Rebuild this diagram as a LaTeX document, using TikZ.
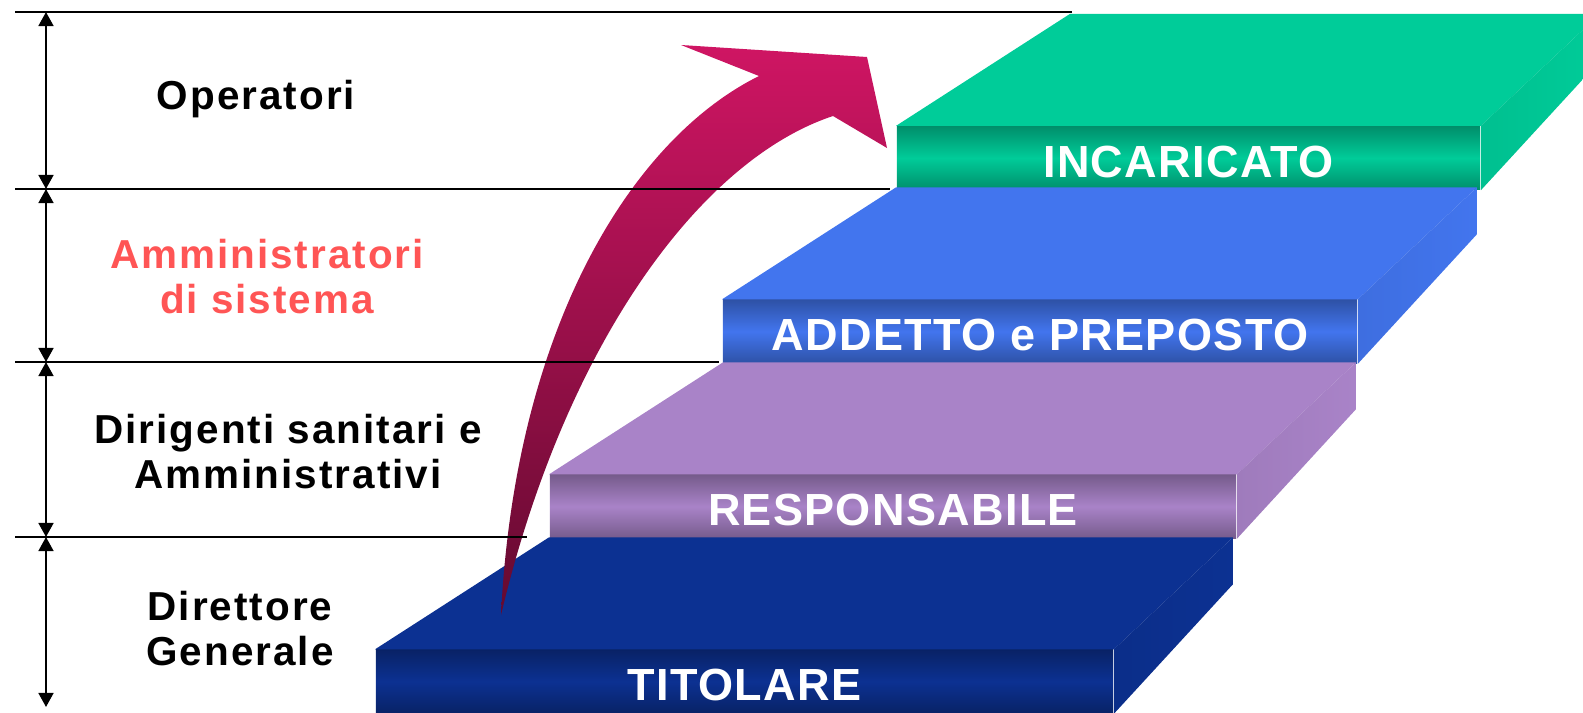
\documentclass[tikz,border=0pt]{standalone}
\usepackage{fontspec}
\setmainfont{Liberation Sans}
\newfontfamily\sidefont[LetterSpace=5]{Liberation Sans}
\newfontfamily\stairfont[LetterSpace=3]{Liberation Sans}
\usetikzlibrary{arrows.meta, calc, positioning}
\definecolor{stepgreen}{RGB}{0,204,153}
\definecolor{stepblue}{RGB}{66,117,238}
\definecolor{steplilac}{RGB}{169,131,200}
\definecolor{stepnavy}{RGB}{12,49,146}
\definecolor{arrowmagenta}{RGB}{207,21,99}
\definecolor{arrowwine}{RGB}{100,10,48}
\definecolor{labelred}{RGB}{255,85,85}

\begin{document}
\begin{tikzpicture}[x=0.01cm, y=-0.01cm,
  front/.style={minimum height=0.63cm, inner sep=0pt, text=white,
    font=\stairfont\bfseries\fontsize{12.8pt}{14pt}\selectfont,
    text height=0.38cm, text depth=0pt, shading angle=45,
    top color=#1!70!black, bottom color=#1!70!black, middle color=#1},
  level/.style={align=center, font=\sidefont\bfseries\fontsize{11.5pt}{12.8pt}\selectfont},
  rule/.style={line width=0.7pt},
  dim/.style={line width=0.7pt, {Triangle[length=4pt,width=4.2pt]}-{Triangle[length=4pt,width=4.2pt]}}
]
  \useasboundingbox (0,0) rectangle (1583,712);
  \clip (0,0) rectangle (1583,712);

  \node[front=stepnavy, minimum width=7.37cm] (titolare) at (744.5,681.5) {TITOLARE};
  \node[front=steplilac, minimum width=6.86cm] (responsabile) at (893,506.5) {RESPONSABILE};
  \node[front=stepblue, minimum width=6.34cm] (addetto) at (1040,331.5) {ADDETTO e PREPOSTO};
  \node[front=stepgreen, minimum width=5.83cm] (incaricato) at (1188.5,158) {INCARICATO};

  \foreach \s/\c in {titolare/stepnavy, responsabile/steplilac, addetto/stepblue, incaricato/stepgreen} {
    \fill[\c] (\s.north west) -- ++(174,-112) -- ($(\s.north east)+(119,-112)$) -- (\s.north east) -- cycle;
    \shade[left color=\c!94!black, right color=\c] (\s.north east) -- ++(119,-112) -- ++(0,47) -- (\s.south east) -- cycle;
  }

  \coordinate (tail) at (501,615);
  \coordinate (barbup) at (681,45);
  \coordinate (tip) at (867,57);
  \coordinate (barblow) at (887,148);
  \coordinate (notchlow) at (833,116);
  \coordinate (notchup) at (759,76);
  \shade[top color=arrowmagenta, bottom color=arrowwine]
    (barbup) -- (tip) -- (barblow) -- (notchlow)
    .. controls (700,160) and (565,345) .. (tail)
    .. controls (515,330) and (630,140) .. (notchup) -- cycle;

  \foreach \y/\e [count=\i] in {12/1072, 189/890, 362/719, 537/527} {
    \coordinate (ls\i) at (15,\y);
    \coordinate (le\i) at (\e,\y);
    \coordinate (a\i) at (46,\y);
    \draw[rule] (ls\i) -- (le\i);
  }
  \coordinate (a5) at (46,707);
  \foreach \i/\j in {1/2, 2/3, 3/4, 4/5}
    \draw[dim] (a\i) -- (a\j);

  \node[level, anchor=base] (operatori) at (256,109) {Operatori};
  \node[level, text=labelred] (amministratori) at (267,277) {Amministratori\\di sistema};
  \node[level] (dirigenti) at (288,452) {Dirigenti sanitari e\\Amministrativi};
  \node[level] (direttore) at (240,629) {Direttore\\Generale};
\end{tikzpicture}
\end{document}
